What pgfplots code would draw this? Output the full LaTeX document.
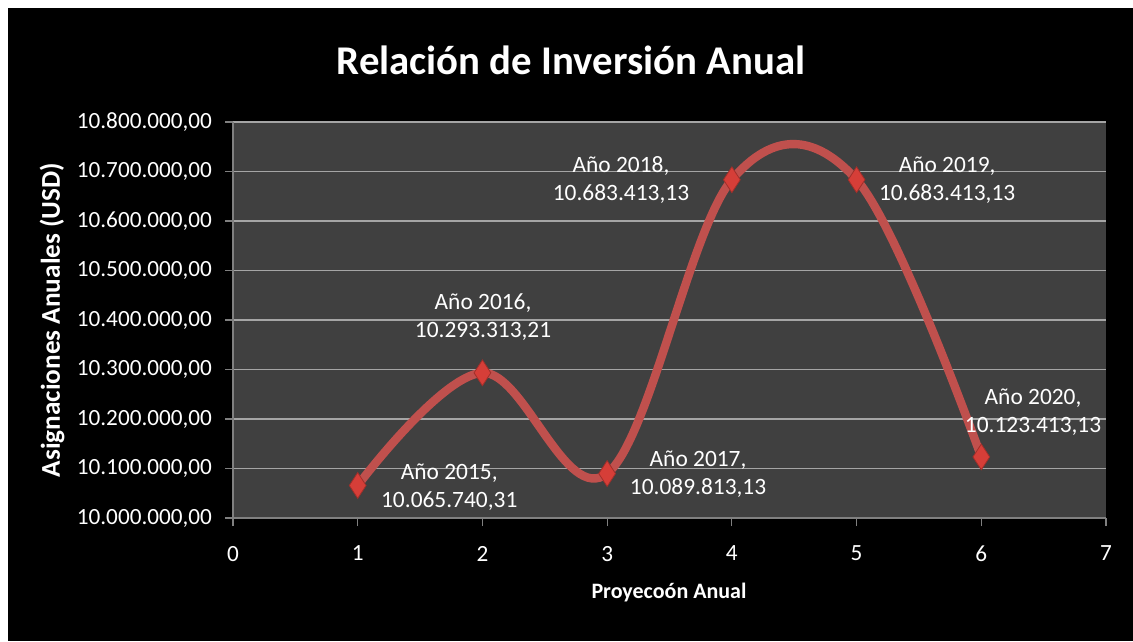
\documentclass[border=0pt]{standalone}
\usepackage{pgfplots}
\pgfplotsset{compat=1.18}
\usepackage{fontspec}
\setmainfont{Carlito}
\definecolor{plotbg}{RGB}{64,64,64}
\definecolor{gridc}{RGB}{165,165,165}
\definecolor{axc}{RGB}{128,128,128}
\definecolor{linec}{RGB}{192,80,77}
\definecolor{markc}{RGB}{214,62,56}
\begin{document}
\begin{tikzpicture}[x=1bp,y=1bp]
\fill[white] (0,0) rectangle (566.5,320.5);
\fill[black] (4,0) rectangle (566.5,316.5);
\node[white,font=\bfseries\fontsize{20.4bp}{24bp}\selectfont] at (285.5,290.5) {Relación de Inversión Anual};
\begin{axis}[
  at={(116.5bp,61.5bp)}, anchor=south west,
  width=436.5bp, height=198bp, scale only axis,
  xmin=0, xmax=7, ymin=10000000, ymax=10800000,
  xtick={0,1,2,3,4,5,6,7},
  ytick={10000000,10100000,10200000,10300000,10400000,10500000,10600000,10700000,10800000},
  yticklabels={{10.000.000,00},{10.100.000,00},{10.200.000,00},{10.300.000,00},{10.400.000,00},{10.500.000,00},{10.600.000,00},{10.700.000,00},{10.800.000,00}},
  scaled y ticks=false,
  axis lines*=left,
  axis line style={axc, line width=0.6bp},
  ymajorgrids, grid style={gridc, line width=0.6bp},
  axis background/.style={fill=plotbg},
  tick style={axc, line width=0.6bp}, major tick length=4bp, tick align=outside,
  ticklabel style={white, font=\fontsize{11.6bp}{13bp}\selectfont},
  xticklabel style={yshift=-6.5bp},
  yticklabel style={xshift=-3bp},
  /pgf/number format/assume math mode=true,
  clip=false,
]
\addplot[linec, line width=4.2bp, smooth, tension=0.6, mark=diamond*, mark size=5.6bp,
  mark options={fill=markc, draw=markc!75!black, line width=0.4bp, yscale=1.15}]
  coordinates {(1,10065740.31)(2,10293313.21)(3,10089813.13)(4,10683413.13)(5,10683413.13)(6,10123413.13)};
\begin{scope}[every node/.style={white, align=center, font=\fontsize{11.7bp}{14bp}\selectfont}]
\node at (axis cs:1.734,10062600) {Año 2015,\\10.065.740,31};
\node at (axis cs:2.005,10406000) {Año 2016,\\10.293.313,21};
\node at (axis cs:3.729,10088900) {Año 2017,\\10.089.813,13};
\node at (axis cs:3.111,10683000) {Año 2018,\\10.683.413,13};
\node at (axis cs:5.726,10683000) {Año 2019,\\10.683.413,13};
\node at (axis cs:6.415,10214000) {Año 2020,\\10.123.413,13};
\end{scope}
\end{axis}
\node[white, font=\bfseries\fontsize{11bp}{13bp}\selectfont] at (334.5,24) {Proyecoón Anual};
\node[white, rotate=90, font=\bfseries\fontsize{13.6bp}{15bp}\selectfont] at (26,160.5) {Asignaciones Anuales (USD)};
\end{tikzpicture}
\end{document}
